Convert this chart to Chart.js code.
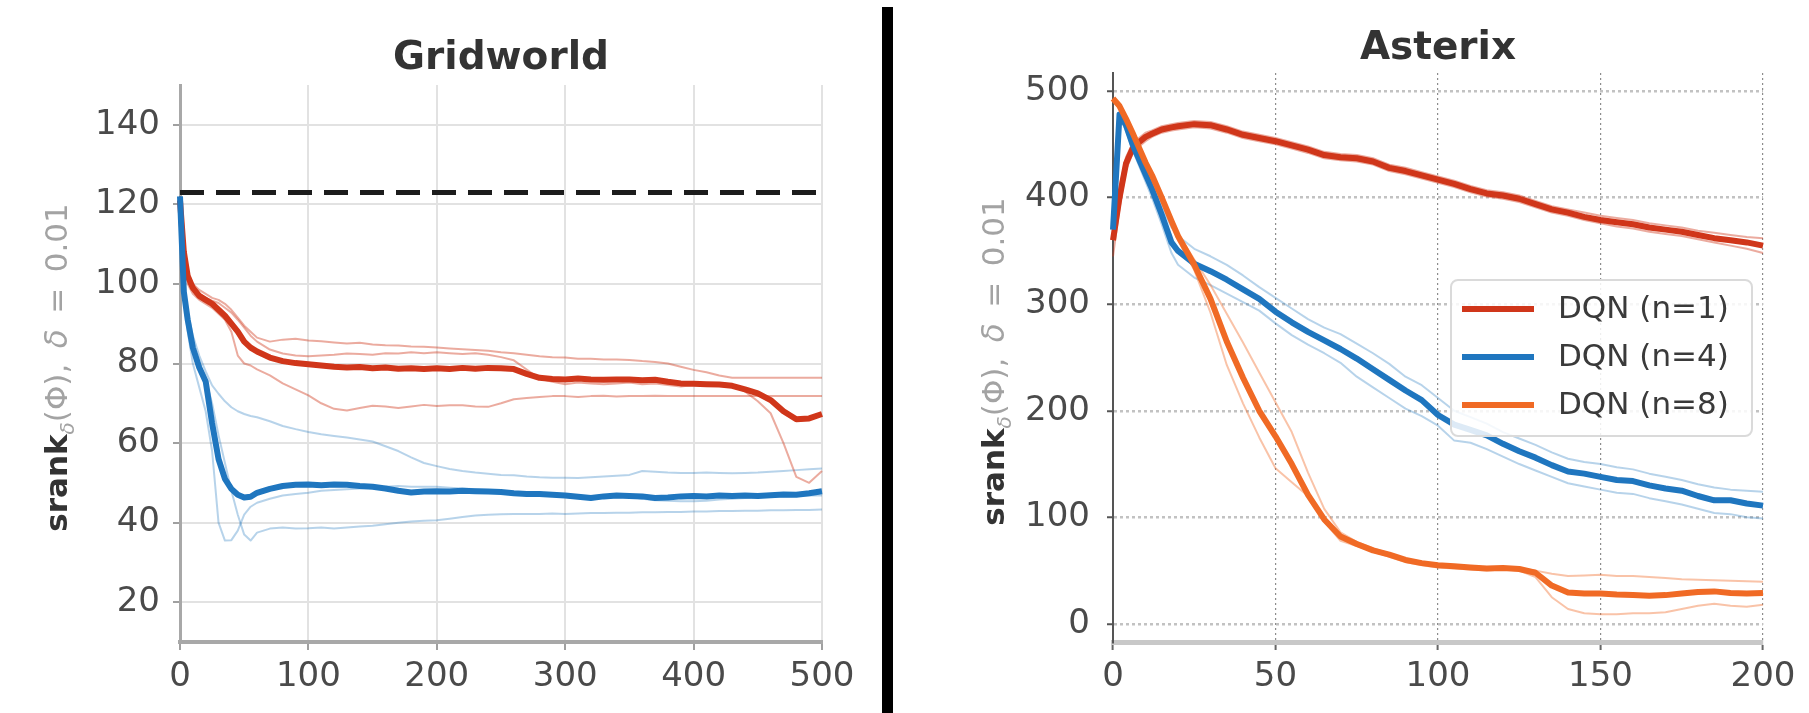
<!DOCTYPE html>
<html>
<head>
<meta charset="utf-8">
<title>srank during training</title>
<script src="https://cdn.jsdelivr.net/npm/chart.js@4.4.1/dist/chart.umd.min.js"></script>
<style>
  html, body { margin: 0; padding: 0; background: #fff; }
  #wrap { position: relative; width: 1809px; height: 713px; overflow: hidden; }
  canvas { position: absolute; top: 0; }
  #gridChart { left: 0; }
  #atariChart { left: 895px; }
  .divider { position: absolute; left: 882px; top: 7px; width: 11px; height: 706px; background: #000; }
</style>
</head>
<body>
<div id="wrap">
  <canvas id="gridChart" width="876" height="713"></canvas>
  <div class="divider"></div>
  <canvas id="atariChart" width="914" height="713"></canvas>
</div>
<script>
const FONT = "'DejaVu Sans', sans-serif";

// Gridworld runs (x = training iteration)
const gridSteps = [0, 3, 6, 10, 15, 20, 25, 30, 35, 40, 45, 50, 55, 60, 70, 80, 90, 100, 110, 120,
  130, 140, 150, 160, 170, 180, 190, 200, 210, 220, 230, 240, 250, 260, 270, 280, 290, 300, 310, 320,
  330, 340, 350, 360, 370, 380, 390, 400, 410, 420, 430, 440, 450, 460, 470, 480, 490, 500];

const gridN1Mean = [121, 108, 102, 99, 97, 96, 95, 93.5, 92, 90, 88, 85.5, 84, 83, 81.5, 80.6, 80.1, 79.8, 79.5, 79.2,
  79, 79.1, 78.8, 79, 78.7, 78.8, 78.6, 78.8, 78.6, 78.9, 78.7, 78.9, 78.8, 78.6, 77.4, 76.4, 76.1, 76, 76.2, 76,
  75.9, 76, 76, 75.8, 75.9, 75.4, 75, 74.9, 74.8, 74.7, 74.4, 73.5, 72.5, 70.8, 68, 66, 66.2, 67.3];
const gridN1RunA = [122, 109, 103, 100, 98.5, 97.5, 96.5, 96, 95, 93.5, 91.5, 89.5, 88, 86.5, 85.5, 86, 86.2, 85.8, 85.6, 85.3,
  85, 85.2, 84.8, 84.6, 84.5, 84.3, 84.2, 84, 83.8, 83.6, 83.4, 83.2, 82.8, 82.6, 82.2, 81.8, 81.6, 81.5, 81.2, 81.2,
  81, 81, 80.9, 80.6, 80.4, 80, 79.2, 78.4, 77.8, 77, 76.4, 76.4, 76.4, 76.4, 76.4, 76.4, 76.4, 76.4];
const gridN1RunB = [120, 106, 100, 97.5, 96, 95, 94, 92.5, 91, 88, 82, 80, 79.5, 78.5, 77, 75, 73.5, 72, 70, 68.6,
  68.2, 68.8, 69.4, 69.2, 68.8, 69.2, 69.6, 69.3, 69.5, 69.5, 69.2, 69.1, 70, 71, 71.3, 71.6, 71.8, 71.8, 71.6, 71.8,
  71.9, 71.7, 71.8, 71.8, 71.9, 71.8, 71.8, 71.8, 71.8, 71.8, 71.8, 71.8, 71.8, 71.8, 71.8, 71.8, 71.8, 71.8];
const gridN1RunC = [121, 107, 102, 99, 97.5, 96.5, 95.8, 95.2, 94, 92.8, 91, 89, 87, 85.5, 83.5, 82.5, 82, 81.8, 82, 82.2,
  82.5, 82.4, 82.2, 82.6, 82.5, 82.8, 82.6, 82.8, 82.6, 82.4, 82.6, 82.2, 81.6, 80.8, 78.5, 76.2, 75.4, 74.8, 75.2, 75,
  74.8, 75, 75.2, 74.8, 75, 74.6, 74.2, 74.6, 74.8, 75, 74.8, 73, 70.5, 67.5, 60, 51.5, 50, 53];

const gridN4Mean = [122, 98, 91, 84, 79, 75.5, 65, 56, 51, 48.5, 47, 46.3, 46.5, 47.5, 48.5, 49.2, 49.5, 49.6, 49.4, 49.6,
  49.5, 49.2, 49, 48.6, 48, 47.6, 47.8, 47.9, 47.8, 48, 47.9, 47.8, 47.7, 47.4, 47.2, 47.2, 47, 46.8, 46.5, 46.2,
  46.6, 46.8, 46.7, 46.6, 46.2, 46.3, 46.6, 46.7, 46.6, 46.8, 46.7, 46.8, 46.7, 46.9, 47.1, 47, 47.4, 47.9];
const gridN4RunA = [122, 100, 93, 87, 82, 78, 74.5, 72.4, 70.5, 69, 68, 67.3, 66.8, 66.5, 65.5, 64.3, 63.5, 62.8, 62.2, 61.8,
  61.4, 60.9, 60.4, 59.2, 58, 56.4, 55, 54.2, 53.5, 53, 52.6, 52.3, 52, 51.9, 51.6, 51.4, 51.3, 51.3, 51.2, 51.4,
  51.6, 51.8, 52, 53, 52.8, 52.6, 52.5, 52.5, 52.6, 52.5, 52.4, 52.5, 52.6, 52.8, 53, 53.2, 53.4, 53.6];
const gridN4RunB = [122, 96, 88, 80, 74, 68, 58, 40, 35.5, 35.6, 38, 42, 44, 45, 46, 46.8, 47.2, 47.5, 48, 48.2,
  48.4, 48.6, 48.8, 49, 49.2, 49, 49, 49, 48.8, 48.6, 48.4, 48.2, 48, 47.6, 47.2, 47, 46.8, 46.6, 46.2, 46,
  46.2, 46.4, 46.5, 46, 45.6, 45.5, 45.4, 45.4, 45.5, 45.8, 46, 46.2, 46.4, 46.5, 46.6, 46.7, 46.8, 46.8];
const gridN4RunC = [122, 98, 91, 84, 79, 76, 70, 62, 55, 48, 42, 37, 35.5, 37.5, 38.5, 38.8, 38.5, 38.6, 38.8, 38.5,
  38.8, 39, 39.2, 39.6, 40, 40.3, 40.5, 40.6, 41, 41.4, 41.8, 42, 42.1, 42.2, 42.2, 42.2, 42.3, 42.2, 42.3, 42.4,
  42.4, 42.5, 42.5, 42.6, 42.6, 42.7, 42.7, 42.8, 42.8, 42.9, 42.9, 43, 43, 43.1, 43.1, 43.2, 43.2, 43.3];

const gridMaxRank = 123;
const gridXTicks = [0, 100, 200, 300, 400, 500];
const gridYTicks = [20, 40, 60, 80, 100, 120, 140];

// Asterix runs
const atariSteps = [0, 2, 4, 6, 8, 10, 12, 15, 18, 20, 25, 30, 35, 40, 45, 50, 55, 60, 65, 70,
  75, 80, 85, 90, 95, 100, 105, 110, 115, 120, 125, 130, 135, 140, 145, 150, 155, 160, 165, 170,
  175, 180, 185, 190, 195, 200];

const atariN1Mean = [360, 400, 432, 446, 452, 457, 460, 464, 466, 467, 469, 468, 464, 459, 456, 453, 449, 445, 440, 438,
  437, 434, 428, 425, 421, 417, 413, 408, 404, 402, 399, 394, 389, 386, 382, 379, 377, 375, 372, 370,
  368, 365, 362, 360, 358, 355];
const atariN1RunA = [375, 410, 438, 451, 456, 461, 463, 467, 469, 470, 472, 471, 467, 462, 459, 456, 452, 448, 443, 441,
  440, 437, 431, 428, 424, 420, 416, 411, 407, 405, 402, 397, 392, 389, 386, 383, 381, 379, 376, 374,
  372, 369, 367, 365, 363, 362];
const atariN1RunB = [345, 390, 426, 441, 448, 453, 457, 461, 463, 464, 466, 465, 461, 456, 453, 450, 446, 442, 437, 435,
  434, 431, 425, 422, 418, 414, 410, 405, 401, 399, 396, 391, 386, 383, 379, 376, 373, 371, 368, 366,
  364, 361, 358, 355, 352, 348];

const atariN4Mean = [370, 478, 468, 450, 436, 422, 408, 384, 358, 350, 338, 331, 323, 314, 305, 293, 283, 274, 266, 258,
  249, 239, 229, 219, 210, 196, 187, 182, 177, 169, 162, 156, 149, 143, 141, 138, 135, 134, 130, 127,
  125, 120, 116, 116, 113, 111];
const atariN4RunA = [372, 480, 472, 455, 441, 428, 414, 392, 372, 364, 352, 345, 337, 327, 316, 306, 296, 286, 278, 272,
  263, 254, 244, 232, 224, 212, 200, 194, 188, 180, 174, 168, 161, 155, 152, 150, 147, 145, 141, 138,
  135, 131, 128, 126, 125, 124];
const atariN4RunB = [368, 476, 463, 445, 430, 415, 400, 375, 348, 337, 325, 318, 310, 302, 294, 282, 271, 262, 254, 245,
  232, 222, 212, 202, 195, 186, 172, 170, 164, 157, 150, 144, 138, 132, 129, 126, 123, 122, 118, 115,
  112, 108, 104, 103, 100, 99];

const atariN8Mean = [493, 486, 474, 461, 447, 433, 421, 400, 378, 364, 337, 305, 265, 231, 200, 176, 150, 121, 98, 82,
  75, 69, 65, 60, 57, 55, 54, 53, 52, 52.5, 51.5, 48, 36, 29.5, 28.5, 28.5, 27.5, 27, 26.5, 27,
  28.5, 30, 30.5, 29, 28.5, 29];
const atariN8RunA = [494, 487, 476, 463, 449, 435, 423, 402, 380, 366, 342, 318, 291, 264, 236, 208, 180, 142, 108, 86,
  77, 71, 66, 61, 58, 56, 55, 54, 53, 53, 52, 50, 47, 45, 45.5, 46, 45, 45, 44, 43,
  42, 41.5, 41, 40.5, 40, 39.5];
const atariN8RunB = [492, 485, 472, 459, 445, 431, 419, 398, 376, 360, 332, 292, 243, 207, 175, 146, 133, 120, 96, 78,
  73, 68, 63, 58, 55, 53, 52, 51, 50, 51, 50, 44, 25, 14, 10, 9, 9, 10, 10, 11,
  14, 17, 19, 17, 16, 18];

const atariXTicks = [0, 50, 100, 150, 200];
const atariYTicks = [0, 100, 200, 300, 400, 500];

const RED = '#d0361a';
const BLUE = '#1f76bf';
const ORANGE = '#f06a25';
const RED_FAINT = 'rgba(208, 54, 26, 0.42)';
const BLUE_FAINT = 'rgba(31, 118, 191, 0.32)';
const ORANGE_FAINT = 'rgba(240, 106, 37, 0.4)';

function toPoints(xs, ys) {
    return xs.map((x, i) => ({ x: x, y: ys[i] }));
}

function meanLine(label, xs, ys, color, rank) {
    return {
        label: label,
        data: toPoints(xs, ys),
        borderColor: color,
        borderWidth: 6,
        pointRadius: 0,
        tension: 0,
        borderJoinStyle: 'round',
        clip: false,
        legendRank: rank
    };
}

function runLine(xs, ys, color) {
    return {
        label: '',
        data: toPoints(xs, ys),
        borderColor: color,
        borderWidth: 2,
        pointRadius: 0,
        tension: 0,
        borderJoinStyle: 'round',
        clip: false
    };
}

function fixedTicks(values) {
    return scale => { scale.ticks = values.map(v => ({ value: v })); };
}

// Rotated y label: bold "srank" followed by the lighter math part
const axisTitle = {
    id: 'axisTitle',
    afterDraw(chart, args, opts) {
        const ctx = chart.ctx;
        const area = chart.chartArea;
        const light = '#a3a3a3';
        const parts = [
            ['srank', 'bold 31px ' + FONT, '#333', 0],
            ['\u03b4', 'italic 20px ' + FONT, light, 7],
            ['(\u03a6),\u2002', '31px ' + FONT, light, 0],
            ['\u03b4', 'italic 31px ' + FONT, light, 0],
            ['\u2002=\u20020.01', '31px ' + FONT, light, 0]
        ];
        ctx.save();
        let total = 0;
        parts.forEach(p => { ctx.font = p[1]; total += ctx.measureText(p[0]).width; });
        ctx.translate(opts.x, (area.top + area.bottom) / 2 + 4);
        ctx.rotate(-Math.PI / 2);
        ctx.textBaseline = 'alphabetic';
        ctx.textAlign = 'left';
        let pos = -total / 2;
        parts.forEach(p => {
            ctx.font = p[1];
            ctx.fillStyle = p[2];
            ctx.fillText(p[0], pos, p[3]);
            pos += ctx.measureText(p[0]).width;
        });
        ctx.restore();
    }
};

// Framed legend sitting inside the plot, drawn over the lines
const boxLegend = {
    id: 'boxLegend',
    afterDatasetsDraw(chart, args, opts) {
        const ctx = chart.ctx;
        const area = chart.chartArea;
        const left = area.right - opts.right - opts.width;
        const top = opts.top;
        const entries = chart.data.datasets
            .filter(d => d.legendRank !== undefined)
            .sort((a, b) => a.legendRank - b.legendRank);

        ctx.save();
        ctx.beginPath();
        ctx.roundRect(left, top, opts.width, opts.height, 7);
        ctx.fillStyle = 'rgba(255, 255, 255, 0.85)';
        ctx.fill();
        ctx.lineWidth = 2;
        ctx.strokeStyle = '#dadada';
        ctx.stroke();

        ctx.font = '31px ' + FONT;
        ctx.textBaseline = 'middle';
        ctx.textAlign = 'left';
        entries.forEach((d, i) => {
            const y = top + opts.firstRow + i * opts.rowGap;
            ctx.beginPath();
            ctx.moveTo(left + opts.lineStart, y);
            ctx.lineTo(left + opts.lineStart + opts.lineLen, y);
            ctx.lineWidth = 6;
            ctx.strokeStyle = d.borderColor;
            ctx.stroke();
            ctx.fillStyle = '#3a3a3a';
            ctx.fillText(d.label, left + opts.textStart, y + 1);
        });
        ctx.restore();
    }
};

// Left panel: Gridworld
new Chart(document.getElementById('gridChart'), {
    type: 'line',
    data: {
        datasets: [
            {
                label: 'max srank',
                data: toPoints([0, 500], [gridMaxRank, gridMaxRank]),
                borderColor: '#1c1c1c',
                borderWidth: 5,
                borderDash: [24, 12],
                pointRadius: 0,
                clip: false
            },
            meanLine('DQN (n=4)', gridSteps, gridN4Mean, BLUE),
            meanLine('DQN (n=1)', gridSteps, gridN1Mean, RED),
            runLine(gridSteps, gridN1RunA, RED_FAINT),
            runLine(gridSteps, gridN1RunB, RED_FAINT),
            runLine(gridSteps, gridN1RunC, RED_FAINT),
            runLine(gridSteps, gridN4RunA, BLUE_FAINT),
            runLine(gridSteps, gridN4RunB, BLUE_FAINT),
            runLine(gridSteps, gridN4RunC, BLUE_FAINT)
        ]
    },
    options: {
        responsive: false,
        animation: false,
        devicePixelRatio: 1,
        layout: { padding: { left: 0, right: 54, top: 0, bottom: 0 } },
        plugins: {
            legend: { display: false },
            tooltip: { enabled: false },
            title: {
                display: true,
                fullSize: false,
                text: 'Gridworld',
                color: '#333',
                font: { family: FONT, size: 39, weight: 'bold', lineHeight: 1.2 },
                padding: { top: 35, bottom: 3.2 }
            },
            axisTitle: { x: 67 }
        },
        scales: {
            x: {
                type: 'linear',
                min: 0,
                max: 500,
                afterBuildTicks: fixedTicks(gridXTicks),
                afterFit: s => { s.height = 71; },
                ticks: { color: '#4a4a4a', font: { family: FONT, size: 34 }, padding: 7, maxRotation: 0, autoSkip: false },
                grid: { color: '#e2e2e2', lineWidth: 2, tickLength: 8, tickColor: '#a0a0a0', tickWidth: 2 },
                border: { color: '#a8a8a8', width: 4 }
            },
            y: {
                type: 'linear',
                min: 10,
                max: 150,
                afterBuildTicks: fixedTicks(gridYTicks),
                afterFit: s => { s.width = 180; },
                ticks: { color: '#4a4a4a', font: { family: FONT, size: 34 }, padding: 13, autoSkip: false },
                grid: { color: '#e2e2e2', lineWidth: 2, tickLength: 7, tickColor: '#a0a0a0', tickWidth: 2 },
                border: { color: '#a8a8a8', width: 3 }
            }
        }
    },
    plugins: [axisTitle]
});

// Right panel: Asterix
new Chart(document.getElementById('atariChart'), {
    type: 'line',
    data: {
        datasets: [
            meanLine('DQN (n=8)', atariSteps, atariN8Mean, ORANGE, 2),
            meanLine('DQN (n=4)', atariSteps, atariN4Mean, BLUE, 1),
            meanLine('DQN (n=1)', atariSteps, atariN1Mean, RED, 0),
            runLine(atariSteps, atariN8RunA, ORANGE_FAINT),
            runLine(atariSteps, atariN8RunB, ORANGE_FAINT),
            runLine(atariSteps, atariN4RunA, BLUE_FAINT),
            runLine(atariSteps, atariN4RunB, BLUE_FAINT),
            runLine(atariSteps, atariN1RunA, RED_FAINT),
            runLine(atariSteps, atariN1RunB, RED_FAINT)
        ]
    },
    options: {
        responsive: false,
        animation: false,
        devicePixelRatio: 1,
        layout: { padding: { left: 0, right: 46, top: 0, bottom: 0 } },
        plugins: {
            legend: { display: false },
            tooltip: { enabled: false },
            title: {
                display: true,
                fullSize: false,
                text: 'Asterix',
                color: '#333',
                font: { family: FONT, size: 39, weight: 'bold', lineHeight: 1.2 },
                padding: { top: 25, bottom: 1.2 }
            },
            axisTitle: { x: 109 },
            boxLegend: {
                right: 11, top: 280, width: 301, height: 156,
                firstRow: 29, rowGap: 48,
                lineStart: 11, lineLen: 72, textStart: 107
            }
        },
        scales: {
            x: {
                type: 'linear',
                min: 0,
                max: 200,
                afterBuildTicks: fixedTicks(atariXTicks),
                afterFit: s => { s.height = 71; },
                ticks: { color: '#4a4a4a', font: { family: FONT, size: 34 }, padding: 7, maxRotation: 0, autoSkip: false },
                grid: { color: '#8c8c8c', lineWidth: 1.2, tickLength: 8, tickColor: '#666', tickWidth: 2 },
                border: { color: '#c8c8c8', width: 5, dash: [2, 3] }
            },
            y: {
                type: 'linear',
                min: -17,
                max: 517,
                afterBuildTicks: fixedTicks(atariYTicks),
                afterFit: s => { s.width = 218; },
                ticks: { color: '#4a4a4a', font: { family: FONT, size: 34 }, padding: 17, autoSkip: false },
                grid: { color: '#c2c2c2', lineWidth: 2.5, tickLength: 6, tickColor: '#555', tickWidth: 2 },
                border: { color: '#555', width: 2, dash: [3, 3] }
            }
        }
    },
    plugins: [axisTitle, boxLegend]
});
</script>
</body>
</html>
